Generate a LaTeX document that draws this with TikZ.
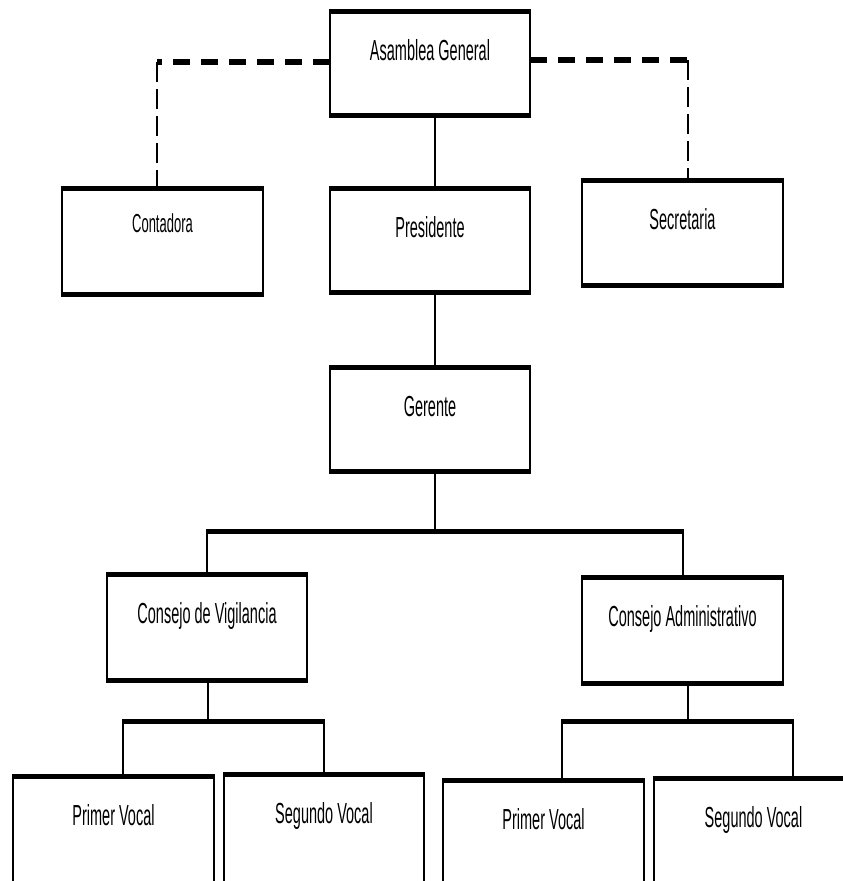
\documentclass[tikz,border=0pt]{standalone}
\usepackage{fontspec}
\newfontfamily\narrowfont{Liberation Sans}[FakeStretch=0.5]
\begin{document}
\begin{tikzpicture}[x=1pt,y=-1pt,
  box/.style={draw, line width=2pt, minimum width=200pt, minimum height=104pt, inner sep=0pt, outer sep=0pt},
  ttl/.style={anchor=base, yshift=-49pt, inner sep=0pt, font=\narrowfont\fontsize{29}{30}\selectfont},
  ttlsmall/.style={anchor=base, yshift=-44pt, inner sep=0pt, font=\narrowfont\fontsize{26}{27}\selectfont},
  conn/.style={line width=2pt},
  bar/.style={line width=5pt},
  hdash/.style={line width=5.5pt, dash pattern=on 17pt off 11pt},
  vdash/.style={line width=2.5pt, dash pattern=on 20pt off 7pt}]
\clip (0,0) rectangle (843,881);
\fill[white] (0,0) rectangle (843,881);
% boxes
\node[box, label={[ttl]north:Asamblea General}] (asm) at (430,63.5) {};
\node[box, minimum width=201pt, minimum height=106pt, label={[ttlsmall]north:Contadora}] (cont) at (162.5,241) {};
\node[box, label={[ttl]north:Presidente}] (pres) at (430,240) {};
\node[box, minimum width=201pt, minimum height=105pt, label={[ttl]north:Secretaria}] (sec) at (682.5,232.5) {};
\node[box, label={[ttl]north:Gerente}] (ger) at (430,419) {};
\node[box, minimum height=106pt, label={[ttl]north:Consejo de Vigilancia}] (cv) at (207,627) {};
\node[box, minimum width=201pt, minimum height=106pt, label={[ttl]north:Consejo Administrativo}] (ca) at (682.5,630) {};
\node[box, minimum width=201pt, minimum height=120pt, label={[ttl]north:Primer Vocal}] (pv1) at (113.5,836) {};
\node[box, minimum height=120pt, label={[ttl]north:Segundo Vocal}] (sv1) at (324,834) {};
\node[box, minimum width=201pt, minimum height=120pt, label={[ttl]north:Primer Vocal}] (pv2) at (543.5,840) {};
\node[box, minimum width=199pt, minimum height=120pt, label={[ttl]north:Segundo Vocal}] (sv2) at (753.5,838) {};
% thick top and bottom borders
\foreach \n in {asm,cont,pres,sec,ger,cv,ca,pv1,sv1,pv2,sv2}{
  \draw[bar] ([xshift=-1pt]\n.north west) -- ([xshift=1pt]\n.north east);
  \draw[bar] ([xshift=-1pt]\n.south west) -- ([xshift=1pt]\n.south east);
}
% dashed links
\coordinate (dl) at (157,62);
\coordinate (dr) at (688,60);
\draw[hdash] (asm.west |- dl) -- (dl);
\draw[vdash] (dl) -- (cont.north -| dl);
\draw[hdash] (asm.east |- dr) -- (dr);
\draw[vdash] (dr) -- (sec.north -| dr);
% main line
\coordinate (mx) at (435,0);
\draw[conn] (asm.south -| mx) -- (pres.north -| mx);
\draw[conn] (pres.south -| mx) -- (ger.north -| mx);
\coordinate (b1) at (435,531);
\coordinate (b1l) at (207,531);
\coordinate (b1r) at (683,531);
\draw[conn] (ger.south -| b1) -- (b1);
\draw[bar] ([xshift=-1pt]b1l) -- ([xshift=1pt]b1r);
\draw[conn] (b1l) -- (cv.north -| b1l);
\draw[conn] (b1r) -- (ca.north -| b1r);
% consejo de vigilancia branch
\coordinate (b2) at (208,721);
\coordinate (b2l) at (123,721);
\coordinate (b2r) at (324,721);
\draw[conn] (cv.south -| b2) -- (b2);
\draw[bar] ([xshift=-1pt]b2l) -- ([xshift=1pt]b2r);
\draw[conn] (b2l) -- (pv1.north -| b2l);
\draw[conn] (b2r) -- (sv1.north -| b2r);
% consejo administrativo branch
\coordinate (b3) at (688,721);
\coordinate (b3l) at (562,721);
\coordinate (b3r) at (793,721);
\draw[conn] (ca.south -| b3) -- (b3);
\draw[bar] ([xshift=-1pt]b3l) -- ([xshift=1pt]b3r);
\draw[conn] (b3l) -- (pv2.north -| b3l);
\draw[conn] (b3r) -- (sv2.north -| b3r);
\end{tikzpicture}
\end{document}
